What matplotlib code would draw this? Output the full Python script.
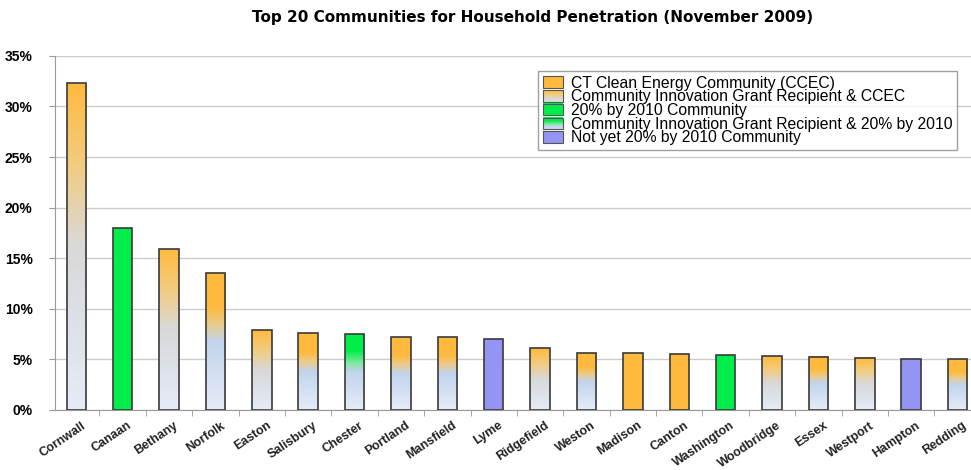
import matplotlib
matplotlib.use('Agg')
import matplotlib.pyplot as plt
import numpy as np
from matplotlib.colors import LinearSegmentedColormap
from matplotlib.patches import Rectangle
from matplotlib.legend_handler import HandlerBase
from matplotlib.ticker import FuncFormatter

plt.rcParams['font.family'] = ['Liberation Sans', 'DejaVu Sans']

towns = ['Cornwall', 'Canaan', 'Bethany', 'Norfolk', 'Easton', 'Salisbury', 'Chester',
         'Portland', 'Mansfield', 'Lyme', 'Ridgefield', 'Weston', 'Madison', 'Canton',
         'Washington', 'Woodbridge', 'Essex', 'Westport', 'Hampton', 'Redding']
penetration = [32.3, 18.0, 15.9, 13.5, 7.9, 7.6, 7.5, 7.2, 7.2, 7.0,
               6.1, 5.6, 5.6, 5.55, 5.45, 5.3, 5.25, 5.15, 5.05, 5.0]
# style of each bar
kind = ['og', 'green', 'og', 'ob', 'og', 'ob', 'gb', 'ob', 'ob', 'purple',
        'og', 'ob', 'orange', 'orange', 'green', 'og', 'ob', 'og', 'purple', 'ob']

legend_labels = ['CT Clean Energy Community (CCEC)',
                 'Community Innovation Grant Recipient & CCEC',
                 '20% by 2010 Community',
                 'Community Innovation Grant Recipient & 20% by 2010',
                 'Not yet 20% by 2010 Community']
legend_kinds = ['orange', 'og', 'green', 'gb', 'purple']

ORANGE = '#FFBA3E'
GREEN = '#00EE4A'
PURPLE = '#9494F4'
GREY = '#D9D9D9'
BLUE = '#C2D4EE'
PALE = '#E6ECF7'

# gradient stops from bottom (0) to top (1)
cmaps = {
    'og': LinearSegmentedColormap.from_list('og', [(0, PALE), (0.3, '#DCDFE6'), (0.5, GREY), (0.75, '#F2CC80'), (1, ORANGE)]),
    'ob': LinearSegmentedColormap.from_list('ob', [(0, PALE), (0.5, BLUE), (0.62, '#E8CC90'), (0.75, ORANGE), (1, ORANGE)]),
    'gb': LinearSegmentedColormap.from_list('gb', [(0, PALE), (0.5, BLUE), (0.62, '#80E8A0'), (0.78, GREEN), (1, GREEN)]),
}
solid = {'orange': ORANGE, 'green': GREEN, 'purple': PURPLE}

fig = plt.figure(figsize=(9.71, 4.70), dpi=100)
ax = fig.add_axes([0.0566, 0.128, 0.9434, 0.753])

x = np.arange(len(towns))
width = 0.42
grad = np.linspace(0, 1, 256).reshape(-1, 1)
for xi, h, k in zip(x, penetration, kind):
    if k in solid:
        ax.bar(xi, h, width=width, color=solid[k], edgecolor='#3a3a3a', linewidth=1.2, zorder=3)
    else:
        ax.imshow(grad, cmap=cmaps[k], origin='lower', aspect='auto',
                  extent=(xi - width / 2, xi + width / 2, 0, h), zorder=2)
        ax.bar(xi, h, width=width, facecolor='none', edgecolor='#3a3a3a', linewidth=1.2, zorder=3)


class GradHandler(HandlerBase):
    def create_artists(self, legend, orig_handle, xdescent, ydescent, width, height, fontsize, trans):
        k = orig_handle.kind
        arts = []
        n = 12
        for i in range(n):
            if k in solid:
                c = solid[k]
            else:
                c = cmaps[k](0.35 + 0.65 * (i + 0.5) / n)
            arts.append(Rectangle((-xdescent, -ydescent + height * i / n), width, height / n + 0.3,
                                  facecolor=c, edgecolor='none', transform=trans))
        arts.append(Rectangle((-xdescent, -ydescent), width, height, facecolor='none',
                              edgecolor='#555555', linewidth=0.8, transform=trans))
        return arts


handles = []
for k in legend_kinds:
    r = Rectangle((0, 0), 1, 1)
    r.kind = k
    handles.append(r)
leg = ax.legend(handles, legend_labels, handler_map={Rectangle: GradHandler()},
                loc='upper left', bbox_to_anchor=(0.5275, 0.958), fontsize=11.3,
                frameon=True, fancybox=False, handlelength=1.3, handleheight=0.75,
                handletextpad=0.5, labelspacing=-0.08, borderpad=0.3, borderaxespad=0)
leg.get_frame().set_edgecolor('#888888')
leg.get_frame().set_linewidth(1.0)
leg.set_zorder(5)

ax.set_ylim(0, 35)
ax.set_xlim(-0.46, 19.29)
ax.set_yticks(np.arange(0, 36, 5))
ax.yaxis.set_major_formatter(FuncFormatter(lambda v, p: f'{int(v)}%'))
ax.set_xticks(x + 0.1)
ax.set_xticklabels(towns, rotation=34, ha='right', va='top', rotation_mode='anchor',
                   fontsize=9, fontweight='bold', color='#222222')
for lbl in ax.get_yticklabels():
    lbl.set_fontweight('bold')
    lbl.set_fontsize(10)
ax.tick_params(axis='x', length=0, pad=7)
ax.set_xticks(x[:-1] + 0.5, minor=True)
ax.tick_params(axis='x', which='minor', length=4, color='#999999')
ax.tick_params(axis='y', length=4, color='#999999', pad=12)
ax.grid(axis='y', color='#CCCCCC', linewidth=1, zorder=0)
ax.set_axisbelow(True)
for s in ['top', 'right']:
    ax.spines[s].set_visible(False)
ax.spines['left'].set_color('#999999')
ax.spines['bottom'].set_color('#999999')

fig.text(0.548, 0.962, 'Top 20 Communities for Household Penetration (November 2009)',
         ha='center', va='center', fontsize=11, fontweight='bold', family='DejaVu Sans')

fig.savefig('out.png', dpi=100)
